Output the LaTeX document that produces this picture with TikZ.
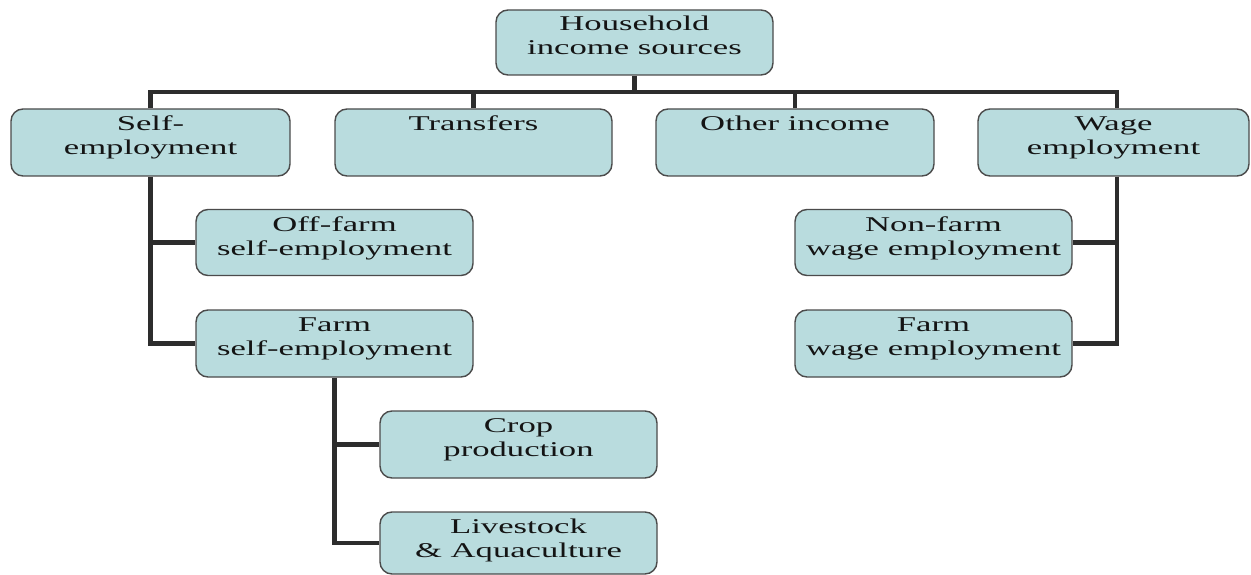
\documentclass[tikz,border=0pt]{standalone}
\usepackage{fontspec}
\setmainfont{Liberation Serif}
\usepackage{graphicx}
\definecolor{boxfill}{RGB}{185,220,222}
\definecolor{boxline}{RGB}{75,75,75}
\definecolor{conncol}{RGB}{45,45,45}
\definecolor{txtcol}{RGB}{20,20,20}
\newcommand{\wtxt}[1]{\scalebox{1.65}[1]{\begin{tabular}{@{}c@{}}#1\end{tabular}}}
\begin{document}
\begin{tikzpicture}[x=1pt,y=-1pt,
  box/.style={draw=boxline, line width=1.4pt, fill=boxfill, rounded corners=12pt, inner sep=0pt, minimum height=67pt},
  lbl/.style={anchor=north, inner sep=0pt, font=\fontsize{21}{24}\selectfont, text=txtcol},
  conn/.style={draw=conncol, line width=4.5pt}]
\useasboundingbox (0,0) rectangle (1251,575);
% boxes
\node[box, minimum width=277pt, minimum height=65pt] (hh) at (634.5,42.5) {};
\node[box, minimum width=279pt] (se) at (150.5,142.5) {};
\node[box, minimum width=277pt] (tr) at (473.5,142.5) {};
\node[box, minimum width=278pt] (oi) at (795,142.5) {};
\node[box, minimum width=271pt] (we) at (1113.5,142.5) {};
\node[box, minimum width=277pt, minimum height=66pt] (of) at (334.5,242.5) {};
\node[box, minimum width=277pt] (fs) at (334.5,343.5) {};
\node[box, minimum width=277pt] (cp) at (518.5,444.5) {};
\node[box, minimum width=277pt, minimum height=62pt] (ls) at (518.5,543) {};
\node[box, minimum width=277pt, minimum height=66pt] (nf) at (933.5,242.5) {};
\node[box, minimum width=277pt] (fw) at (933.5,343.5) {};
% labels
\node[lbl] (hh-t) at ([yshift=-4pt]hh.north) {\wtxt{Household\\income sources}};
\node[lbl] (se-t) at ([yshift=-5.5pt]se.north) {\wtxt{Self-\\employment}};
\node[lbl] (tr-t) at ([yshift=-5.5pt]tr.north) {\wtxt{Transfers}};
\node[lbl] (oi-t) at ([yshift=-5.5pt]oi.north) {\wtxt{Other income}};
\node[lbl] (we-t) at ([yshift=-5.5pt]we.north) {\wtxt{Wage\\employment}};
\node[lbl] (of-t) at ([yshift=-5.5pt]of.north) {\wtxt{Off-farm\\self-employment}};
\node[lbl] (fs-t) at ([yshift=-5.5pt]fs.north) {\wtxt{Farm\\self-employment}};
\node[lbl] (cp-t) at ([yshift=-5.5pt]cp.north) {\wtxt{Crop\\production}};
\node[lbl] (ls-t) at ([yshift=-5.5pt]ls.north) {\wtxt{Livestock\\\& Aquaculture}};
\node[lbl] (nf-t) at ([yshift=-5.5pt]nf.north) {\wtxt{Non-farm\\wage employment}};
\node[lbl] (fw-t) at ([yshift=-5.5pt]fw.north) {\wtxt{Farm\\wage employment}};
% connectors
\coordinate (bus) at (0,92);
\coordinate (wx) at (1117,0);
\draw[conn] (hh.south) -- (hh.south |- bus);
\draw[conn] (se.north) |- (wx |- bus) -- (wx |- we.north);
\draw[conn] (tr.north) -- (tr.north |- bus);
\draw[conn] (oi.north) -- (oi.north |- bus);
\draw[conn] (se.south) |- (fs.west);
\draw[conn] (se.south |- of.west) -- (of.west);
\draw[conn] (fs.south) |- (ls.west);
\draw[conn] (fs.south |- cp.west) -- (cp.west);
\draw[conn] (wx |- we.south) |- (fw.east);
\draw[conn] (wx |- nf.east) -- (nf.east);
\end{tikzpicture}
\end{document}
